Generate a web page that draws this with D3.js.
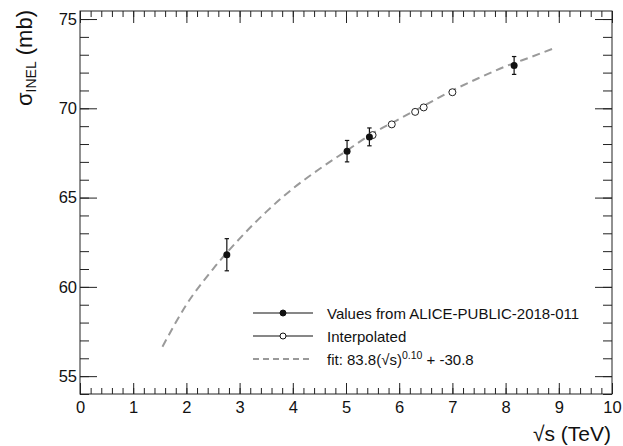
<!DOCTYPE html>
<html>
<head>
<meta charset="utf-8">
<script src="https://cdn.jsdelivr.net/npm/d3@7"></script>
<style>
  body { margin: 0; background: #fff; }
  svg { font-family: "Liberation Sans", Arial, sans-serif; }
  .tick text { font-size: 16.5px; fill: #111; }
</style>
</head>
<body>
<svg width="623" height="446"></svg>
<script>
// measured points (filled)
const measX = [2.76, 5.02, 5.44, 8.16];
const measY = [61.8, 67.6, 68.4, 72.4];
const measErr = [0.9, 0.6, 0.5, 0.5];

// interpolated points (open)
const interpX = [5.5, 5.86, 6.3, 6.46, 7.0];
const interpY = [68.5, 69.1, 69.8, 70.05, 70.9];

// fit curve
const fitX = [1.55, 2, 2.5, 3, 3.5, 4, 4.5, 5, 5.5, 6, 6.5, 7, 7.5, 8, 8.5, 8.96];
const fitY = [56.65, 59.0, 61.0, 62.7, 64.2, 65.5, 66.6, 67.6, 68.6, 69.4, 70.2, 71.0, 71.7, 72.35, 72.9, 73.42];

const xTicks = [0, 1, 2, 3, 4, 5, 6, 7, 8, 9, 10];
const yTicks = [55, 60, 65, 70, 75];

const legendLabels = ['Values from ALICE-PUBLIC-2018-011', 'Interpolated'];

const svg = d3.select('svg');
const margin = { top: 11, right: 11, bottom: 52, left: 80 };
const width = 623, height = 446;
const x0 = margin.left, x1 = width - margin.right;
const y0 = height - margin.bottom, y1 = margin.top;

const xScale = d3.scaleLinear().domain([0, 10]).range([x0, x1]);
const yScale = d3.scaleLinear().domain([54, 75.45]).range([y0, y1]);

const axisColor = '#222';

// minor ticks
const xMinor = d3.range(0, 10.001, 0.2);
const yMinor = d3.range(54, 75.5, 1);

const styleAxis = g => {
  g.select('.domain').remove();
  g.selectAll('.tick line').attr('stroke', axisColor);
};

// bottom
svg.append('g').attr('transform', `translate(0,${y0})`)
  .call(d3.axisBottom(xScale).tickValues(xMinor).tickSize(-6).tickFormat(''))
  .call(styleAxis);
svg.append('g').attr('transform', `translate(0,${y0})`)
  .call(d3.axisBottom(xScale).tickValues(xTicks).tickSize(-11).tickPadding(7).tickFormat(d3.format('d')))
  .call(styleAxis);
// top
svg.append('g').attr('transform', `translate(0,${y1})`)
  .call(d3.axisTop(xScale).tickValues(xMinor).tickSize(-6).tickFormat(''))
  .call(styleAxis);
svg.append('g').attr('transform', `translate(0,${y1})`)
  .call(d3.axisTop(xScale).tickValues(xTicks).tickSize(-12).tickFormat(''))
  .call(styleAxis);
// left
svg.append('g').attr('transform', `translate(${x0},0)`)
  .call(d3.axisLeft(yScale).tickValues(yMinor).tickSize(-9).tickFormat(''))
  .call(styleAxis);
svg.append('g').attr('transform', `translate(${x0},0)`)
  .call(d3.axisLeft(yScale).tickValues(yTicks).tickSize(-17).tickPadding(3).tickFormat(d3.format('d')))
  .call(styleAxis);
// right
svg.append('g').attr('transform', `translate(${x1},0)`)
  .call(d3.axisRight(yScale).tickValues(yMinor).tickSize(-9).tickFormat(''))
  .call(styleAxis);
svg.append('g').attr('transform', `translate(${x1},0)`)
  .call(d3.axisRight(yScale).tickValues(yTicks).tickSize(-17).tickFormat(''))
  .call(styleAxis);

// frame
svg.append('rect')
  .attr('x', x0).attr('y', y1)
  .attr('width', x1 - x0).attr('height', y0 - y1)
  .attr('fill', 'none').attr('stroke', axisColor).attr('stroke-width', 1);

// fit line
const fitData = fitX.map((v, i) => [v, fitY[i]]);
svg.append('path')
  .datum(fitData)
  .attr('fill', 'none')
  .attr('stroke', '#9a9a9a')
  .attr('stroke-width', 2)
  .attr('stroke-dasharray', '8,5')
  .attr('d', d3.line().x(d => xScale(d[0])).y(d => yScale(d[1])).curve(d3.curveMonotoneX));

// error bars
const meas = measX.map((v, i) => ({ x: v, y: measY[i], e: measErr[i] }));
const eb = svg.append('g').attr('stroke', '#111').attr('stroke-width', 1.2);
meas.forEach(d => {
  const cx = xScale(d.x);
  eb.append('line').attr('x1', cx).attr('x2', cx)
    .attr('y1', yScale(d.y - d.e)).attr('y2', yScale(d.y + d.e));
  [d.y - d.e, d.y + d.e].forEach(v => {
    eb.append('line').attr('x1', cx - 2.2).attr('x2', cx + 2.2)
      .attr('y1', yScale(v)).attr('y2', yScale(v));
  });
});

svg.selectAll('.interp').data(interpX).enter().append('circle')
  .attr('class', 'interp')
  .attr('cx', d => xScale(d))
  .attr('cy', (d, i) => yScale(interpY[i]))
  .attr('r', 3.5)
  .attr('fill', '#fff').attr('stroke', '#222').attr('stroke-width', 1);

svg.selectAll('.meas').data(meas).enter().append('circle')
  .attr('class', 'meas')
  .attr('cx', d => xScale(d.x))
  .attr('cy', d => yScale(d.y))
  .attr('r', 3.5)
  .attr('fill', '#111');

// legend
const leg = svg.append('g');
const lx0 = 253, lx1 = 313, lmid = 283, ltx = 327;
const rows = [313, 336, 359];
rows.slice(0, 2).forEach((ry, i) => {
  leg.append('line').attr('x1', lx0).attr('x2', lx1).attr('y1', ry).attr('y2', ry)
    .attr('stroke', '#111').attr('stroke-width', 1.2);
  leg.append('circle').attr('cx', lmid).attr('cy', ry).attr('r', 3)
    .attr('fill', i === 0 ? '#111' : '#fff').attr('stroke', '#111').attr('stroke-width', 1);
  leg.append('text').attr('x', ltx).attr('y', ry + 5.5)
    .attr('font-size', 15).attr('fill', '#111').text(legendLabels[i]);
});
leg.append('line').attr('x1', lx0).attr('x2', lx1).attr('y1', rows[2]).attr('y2', rows[2])
  .attr('stroke', '#9a9a9a').attr('stroke-width', 2).attr('stroke-dasharray', '6,4');
const fitText = leg.append('text').attr('x', ltx).attr('y', rows[2] + 5.5)
  .attr('font-size', 15).attr('fill', '#111');
fitText.append('tspan').text('fit: 83.8(√s)');
fitText.append('tspan').attr('dy', -6).attr('font-size', 10.5).text('0.10');
fitText.append('tspan').attr('dy', 6).text(' + -30.8');

// axis titles
svg.append('text')
  .attr('x', 611).attr('y', 441)
  .attr('text-anchor', 'end')
  .attr('font-size', 21).attr('fill', '#111')
  .text('√s (TeV)');

const yt = svg.append('text')
  .attr('transform', 'translate(32,10) rotate(-90)')
  .attr('text-anchor', 'end')
  .attr('font-size', 22).attr('fill', '#111');
yt.append('tspan').text('σ');
yt.append('tspan').attr('dy', 4).attr('font-size', 14).text('INEL');
yt.append('tspan').attr('dy', -4).text(' (mb)');
</script>
</body>
</html>
